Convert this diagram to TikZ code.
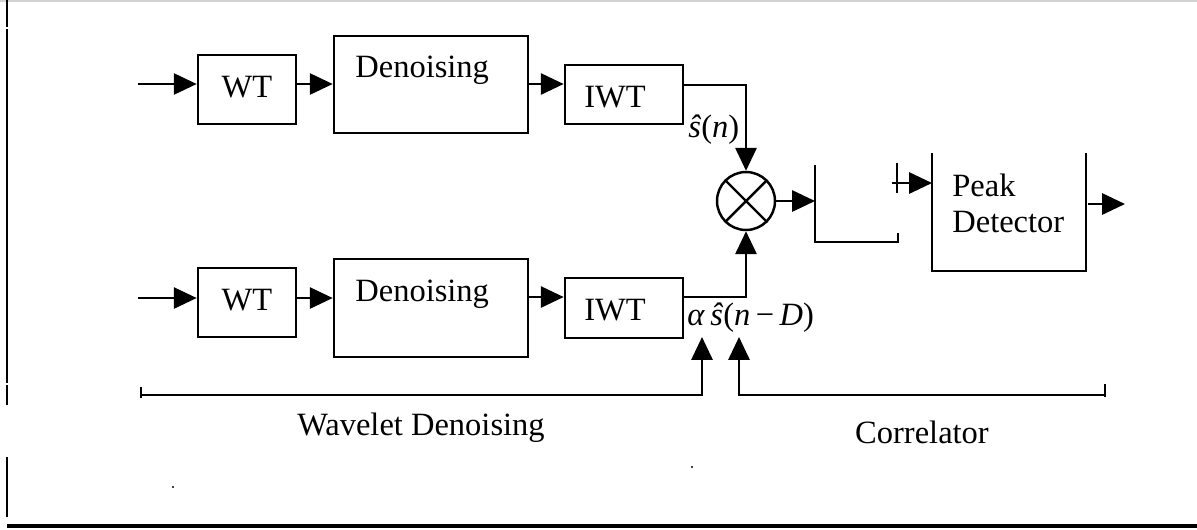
\documentclass[tikz,border=0pt]{standalone}
\usepackage{fontspec}
\setmainfont{Liberation Serif}
\usetikzlibrary{arrows.meta}
\begin{document}
\begin{tikzpicture}[x=0.02cm,y=-0.02cm,
  blk/.style={draw, line width=1.5pt, inner sep=0pt},
  lbl/.style={font=\fontsize{18.5}{20.4}\selectfont, inner sep=0pt},
  arr/.style={line width=1.4pt, -{Triangle[length=13pt,width=12pt]}},
  ln/.style={line width=1.4pt}]
\useasboundingbox (0,0) rectangle (1197,529);
% frame remnants
\draw[gray!35, line width=1pt] (0,1) -- (1197,1);
\draw[ln] (7,0) -- (7,27);
\draw[ln] (7,29) -- (7,383);
\draw[line width=0.6pt] (7,385) -- (7,405);
\draw[ln] (7,457) -- (7,517);
\draw[line width=1.8pt] (7,526) -- (1197,526);
\fill (173,487) circle (1.2);
\fill (692,467) circle (1.2);
% top row
\node[blk, minimum width=1.96cm, minimum height=1.38cm] (wt1) at (247,89.5) {};
\node[lbl, anchor=base] (wt1t) at (247,97) {WT};
\node[blk, minimum width=3.88cm, minimum height=1.94cm] (den1) at (431,84.5) {};
\node[lbl, anchor=base west] (den1t) at (355,77) {Denoising};
\node[blk, minimum width=2.36cm, minimum height=1.18cm] (iwt1) at (624,94.5) {};
\node[lbl, anchor=base] (iwt1t) at (615,107) {IWT};
% bottom row
\node[blk, minimum width=1.96cm, minimum height=1.38cm] (wt2) at (247,302.5) {};
\node[lbl, anchor=base] (wt2t) at (247,310) {WT};
\node[blk, minimum width=3.88cm, minimum height=1.96cm] (den2) at (431,308) {};
\node[lbl, anchor=base west] (den2t) at (355,301) {Denoising};
\node[blk, minimum width=2.36cm, minimum height=1.2cm] (iwt2) at (624,308) {};
\node[lbl, anchor=base] (iwt2t) at (615,320) {IWT};
% multiplier
\node[draw, circle, line width=1.4pt, minimum size=1.16cm, inner sep=0pt] (mult) at (746,201) {};
\draw[ln] (mult.north west) -- (mult.south east);
\draw[ln] (mult.north east) -- (mult.south west);
% inputs and chain arrows
\coordinate (in1) at (138,84);
\coordinate (in2) at (138,298);
\draw[arr] (in1) -- (in1 -| wt1.west);
\draw[arr] (wt1.east |- in1) -- (den1.west |- in1);
\draw[arr] (den1.east |- in1) -- (iwt1.west |- in1);
\draw[arr] (in2) -- (in2 -| wt2.west);
\draw[arr] (wt2.east |- in2) -- (den2.west |- in2);
\coordinate (c2) at (528,297);
\draw[arr] (c2) -- (c2 -| iwt2.west);
% to multiplier
\coordinate (o1) at (683,85);
\coordinate (o2) at (683,297);
\draw[arr] (o1) -| (mult.north);
\draw[arr] (o2) -| (mult.south);
\node[lbl, anchor=base west] (sn) at (688,137) {\textit{ŝ}(\textit{n})};
\node[lbl, anchor=base west] (asn) at (687,325) {\textit{α}\,\textit{ŝ}(\textit{n}\,−\,\textit{D})};
% correlator block
\coordinate (corr) at (815,201);
\draw[arr] (mult.east) -- (corr);
\draw[ln] (815,165) -- (815,242) -- (898,242) -- (898,233);
\draw[ln] (897,163) -- (897,193);
% peak detector
\coordinate (pk) at (932,183);
\coordinate (pkst) at (892,183);
\draw[arr] (pkst) -- (pk);
\draw[ln] (932,153) -- (932,271) -- (1086,271) -- (1086,153);
\node[lbl, anchor=north west, align=left] (peak) at (952,174) {Peak\\Detector};
\coordinate (po1) at (1088,204);
\coordinate (po2) at (1125,204);
\draw[arr] (po1) -- (po2);
% brackets
\coordinate (b1) at (141,395);
\coordinate (a1) at (702,337);
\coordinate (b2) at (1105,395);
\coordinate (a2) at (739,337);
\draw[ln] (141,387) -- (141,398);
\draw[arr] (b1) -| (a1);
\draw[ln] (1105,384) -- (1105,397);
\draw[arr] (b2) -| (a2);
\node[lbl, anchor=base] (wd) at (421,435) {Wavelet Denoising};
\node[lbl, anchor=base] (cr) at (922,443) {Correlator};
\end{tikzpicture}
\end{document}
